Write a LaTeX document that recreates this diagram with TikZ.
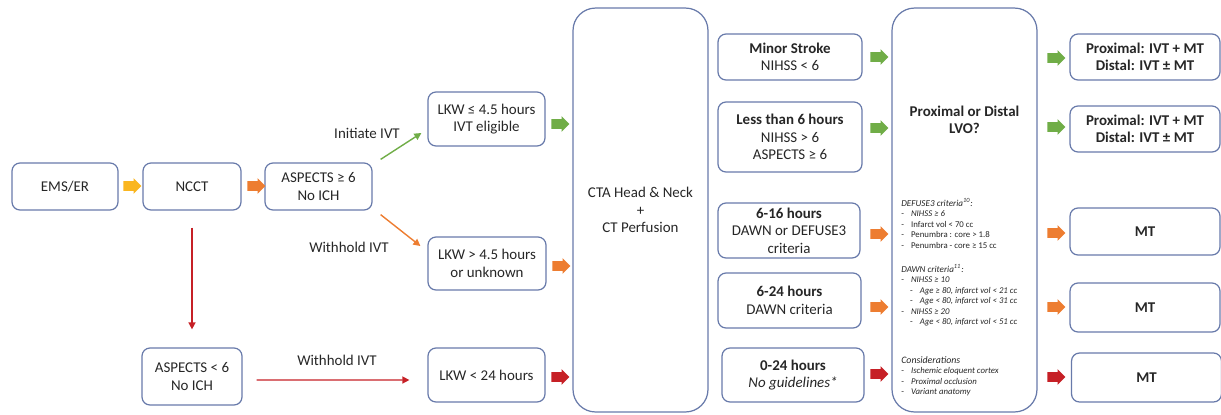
\documentclass[tikz,border=0pt]{standalone}
\usepackage{fontspec}
\setmainfont{Carlito}
\usepackage{xcolor}
\usetikzlibrary{shapes.arrows,arrows.meta}
\definecolor{flowblue}{RGB}{104, 122, 170}
\definecolor{flowgreen}{RGB}{112, 173, 71}
\definecolor{floworange}{RGB}{237, 125, 49}
\definecolor{flowyellow}{RGB}{250, 182, 32}
\definecolor{flowred}{RGB}{198, 32, 38}
\definecolor{flowtext}{RGB}{38, 38, 38}

\begin{document}
\begin{tikzpicture}[x=0.02cm, y=-0.02cm, font=\fontsize{8.5}{10}\selectfont, text=flowtext,
  box/.style={draw=flowblue, line width=0.7pt, rounded corners=0.16cm, align=center, inner sep=2pt},
  tall/.style={draw=flowblue, line width=0.7pt, rounded corners=0.45cm, align=center, minimum height=8.08cm},
  blk/.style={single arrow, fill=#1, draw=none, inner xsep=0pt, inner ysep=0.09cm, minimum height=0.36cm, single arrow head extend=0.06cm},
  link/.style={line width=0.8pt, -{Triangle[length=4pt,width=4pt]}},
  note/.style={font=\fontsize{5}{6}\selectfont, align=left, inner sep=0pt, anchor=north west}]
\useasboundingbox (0,0) rectangle (1221,414);

% Triage column: EMS -> NCCT -> ASPECTS
\node[box, minimum width=2.12cm, minimum height=0.94cm] (ems) at (65,186.5) {EMS/ER};
\node[box, minimum width=1.96cm, minimum height=0.94cm] (ncct) at (192,186.5) {NCCT};
\node[box, minimum width=2.14cm, minimum height=0.94cm] (asphi) at (318.5,186.5) {ASPECTS ≥ 6\\No ICH};
\node[box, minimum width=2.0cm, minimum height=1.14cm] (asplo) at (192,376.5) {ASPECTS < 6\\No ICH};

% Last known well
\node[box, minimum width=2.34cm, minimum height=1.08cm] (lkwa) at (486.5,119) {LKW ≤ 4.5 hours\\IVT eligible};
\node[box, minimum width=2.36cm, minimum height=1.06cm] (lkwb) at (487,263.5) {LKW > 4.5 hours\\or unknown};
\node[box, minimum width=2.34cm, minimum height=1.08cm] (lkwc) at (486.5,375) {LKW < 24 hours};

% Imaging
\node[tall, minimum width=2.7cm] (cta) at (640.5,210) {CTA Head \& Neck\\+\\CT Perfusion};

% Time windows
\node[box, minimum width=2.88cm, minimum height=0.92cm] (minor) at (790,57) {\textbf{Minor Stroke}\\NIHSS < 6};
\node[box, minimum width=2.88cm, minimum height=1.4cm] (early) at (790,137) {\textbf{Less than 6 hours}\\NIHSS > 6\\ASPECTS ≥ 6};
\node[box, minimum width=2.84cm, minimum height=1.1cm] (late) at (789,230.5) {\textbf{6-16 hours}\\DAWN or DEFUSE3\\criteria};
\node[box, minimum width=2.86cm, minimum height=1.1cm] (dawn) at (789.5,300.5) {\textbf{6-24 hours}\\DAWN criteria};
\node[box, minimum width=2.84cm, minimum height=1.08cm] (any) at (793,375) {\textbf{0-24 hours}\\\textit{No guidelines*}};

% Occlusion site
\node[tall, minimum width=2.9cm] (lvo) at (964.5,210) {};
\node[align=center, font=\fontsize{8.5}{10}\selectfont\bfseries] (lvotxt) at (964.5,120) {Proximal or Distal\\LVO?};
\node[note] (defuse) at (901,198) {\fontsize{5.2}{6}\selectfont\textit{DEFUSE3 criteria\textsuperscript{10}:}\\
-\hspace{4pt}\textit{NIHSS ≥ 6}\\
-\hspace{4pt}Infarct vol < 70 cc\\
-\hspace{4pt}Penumbra : core > 1.8\\
-\hspace{4pt}Penumbra - core ≥ 15 cc};
\node[note] (dawncrit) at (901,264) {\fontsize{5.2}{6}\selectfont\textit{DAWN criteria\textsuperscript{11}:}\\
-\hspace{4pt}\textit{NIHSS ≥ 10}\\
\hspace{5pt}-\hspace{4pt}\textit{Age ≥ 80, infarct vol < 21 cc}\\
\hspace{5pt}-\hspace{4pt}\textit{Age < 80, infarct vol < 31 cc}\\
-\hspace{4pt}\textit{NIHSS ≥ 20}\\
\hspace{5pt}-\hspace{4pt}\textit{Age < 80, infarct vol < 51 cc}};
\node[note] (consid) at (901,356) {\fontsize{5.6}{6}\selectfont\textit{Considerations}\\
-\hspace{4pt}\textit{Ischemic eloquent cortex}\\
-\hspace{4pt}\textit{Proximal occlusion}\\
-\hspace{4pt}\textit{Variant anatomy}};

% Treatment
\node[box, minimum width=3.0cm, minimum height=0.92cm, font=\fontsize{8.5}{10}\selectfont\bfseries] (tx1) at (1145,57) {Proximal: IVT + MT\\Distal: IVT ± MT};
\node[box, minimum width=3.0cm, minimum height=0.92cm, font=\fontsize{8.5}{10}\selectfont\bfseries] (tx2) at (1145,129) {Proximal: IVT + MT\\Distal: IVT ± MT};
\node[box, minimum width=3.0cm, minimum height=0.94cm, font=\fontsize{8.5}{10}\selectfont\bfseries] (tx3) at (1145,231.5) {MT};
\node[box, minimum width=3.0cm, minimum height=0.98cm, font=\fontsize{8.5}{10}\selectfont\bfseries] (tx4) at (1145,307.5) {MT};
\node[box, minimum width=3.0cm, minimum height=0.98cm, font=\fontsize{8.5}{10}\selectfont\bfseries] (tx5) at (1146.5,377.5) {MT};

% Block arrows
\node[blk=flowyellow] (b1) at (130,186) {};
\node[blk=floworange] (b2) at (254,186) {};
\node[blk=flowgreen] (b3) at (558,124) {};
\node[blk=floworange] (b4) at (559,266) {};
\node[blk=flowred] (b5) at (558,377) {};
\node[blk=flowgreen] (b6) at (877,57) {};
\node[blk=flowgreen] (b7) at (877,128) {};
\node[blk=floworange] (b8) at (877,234) {};
\node[blk=floworange] (b9) at (877,307) {};
\node[blk=flowred] (b10) at (877,374) {};
\node[blk=flowgreen] (b11) at (1054,58) {};
\node[blk=flowgreen] (b12) at (1054,127) {};
\node[blk=floworange] (b13) at (1054,233) {};
\node[blk=floworange] (b14) at (1054,307) {};
\node[blk=flowred] (b15) at (1054,377) {};

% Decision links
\draw[link, flowgreen] ([xshift=0.16cm, yshift=0.06cm]asphi.north east) -- ([xshift=-0.12cm, yshift=-0.28cm]lkwa.west);
\draw[link, floworange] ([xshift=0.16cm, yshift=-0.08cm]asphi.south east) -- ([xshift=-0.14cm, yshift=0.35cm]lkwb.west);
\draw[link, flowred] ([yshift=-0.34cm]ncct.south) -- ([yshift=0.36cm]asplo.north);
\draw[link, flowred] ([xshift=0.28cm, yshift=-0.07cm]asplo.east) -- ([xshift=-0.36cm, yshift=-0.1cm]lkwc.west);

% Labels
\node (lblinit) at (367,133) {Initiate IVT};
\node (lblhold) at (349,247) {Withhold IVT};
\node (lblholdlo) at (337,360) {Withhold IVT};
\end{tikzpicture}
\end{document}
